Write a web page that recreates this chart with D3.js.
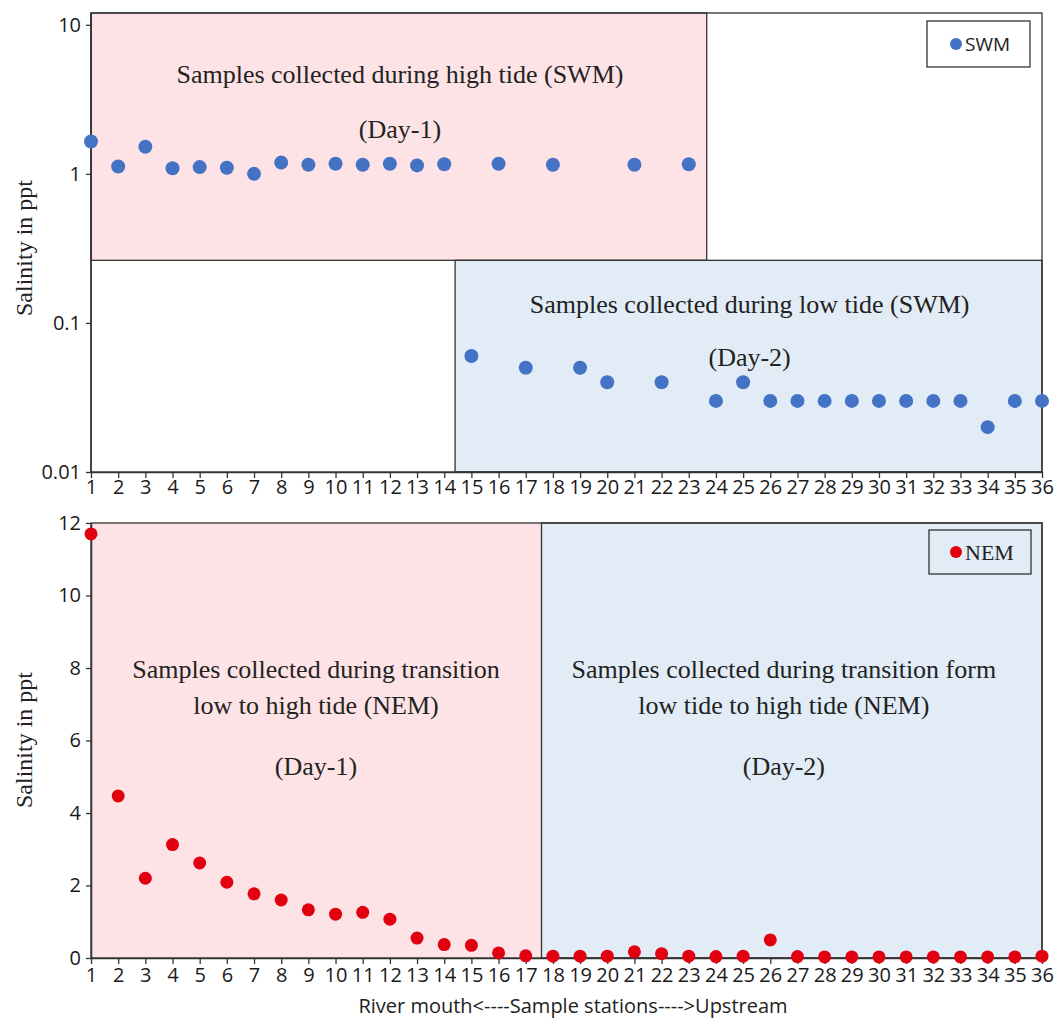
<!DOCTYPE html>
<html>
<head>
<meta charset="utf-8">
<script src="https://cdn.jsdelivr.net/npm/d3@7"></script>
<style>
body { margin: 0; background: #fff; }
</style>
</head>
<body>
<script>
// stations 1..36
var stations = d3.range(1, 37);

// SWM - high tide day-1 (log scale)
var swmHighStations = [1,2,3,4,5,6,7,8,9,10,11,12,13,14,16,18,21,23];
var swmHighValues   = [1.65,1.12,1.52,1.09,1.11,1.10,1.00,1.19,1.15,1.17,1.15,1.17,1.14,1.16,1.17,1.15,1.15,1.16];
// SWM - low tide day-2
var swmLowStations = [15,17,19,20,22,24,25,26,27,28,29,30,31,32,33,34,35,36];
var swmLowValues   = [0.06,0.05,0.05,0.04,0.04,0.03,0.04,0.03,0.03,0.03,0.03,0.03,0.03,0.03,0.03,0.02,0.03,0.03];

// NEM - all 36 stations
var nemValues = [11.7,4.47,2.2,3.13,2.62,2.09,1.77,1.6,1.33,1.21,1.26,1.07,0.55,0.37,0.35,0.14,0.06,
                 0.05,0.05,0.05,0.17,0.12,0.05,0.04,0.05,0.5,0.04,0.03,0.03,0.03,0.03,0.03,0.03,0.03,0.03,0.05];

var logTicks = [0.01, 0.1, 1, 10];
var linTicks = [0, 2, 4, 6, 8, 10, 12];

var W = 1059, H = 1021;
var svg = d3.select('body').append('svg')
    .attr('width', W)
    .attr('height', H);

var x = d3.scaleLinear().domain([1, 36]).range([91, 1042]);
var yTop = d3.scaleLog().domain([0.01, 12]).range([472, 13]);
var yBot = d3.scaleLinear().domain([0, 12]).range([958, 523]);

var pink = '#fde3e5', blue = '#e1ecf7', edge = '#333';
var serif = 'Liberation Serif, Times New Roman, serif';
var sans = 'Open Sans, sans-serif';
var annSize = 26;

function ann(g, cx, y, t) {
    g.append('text').attr('x', cx).attr('y', y)
        .attr('text-anchor', 'middle').attr('font-family', serif)
        .attr('font-size', annSize).attr('fill', '#222').text(t);
}

function styleAxis(a) {
    a.select('.domain').attr('stroke', edge).attr('stroke-width', 1.5);
    a.selectAll('.tick line').attr('stroke', edge).attr('stroke-width', 1.3);
    a.selectAll('.tick text').attr('font-family', sans).attr('font-size', 20).attr('fill', '#1a1a1a');
}

// ---------- TOP PANEL ----------
var topG = svg.append('g');

// shaded regions (in data units)
topG.append('rect')
    .attr('x', x(1)).attr('y', yTop(12))
    .attr('width', x(23.66) - x(1)).attr('height', yTop(0.263) - yTop(12))
    .attr('fill', pink).attr('stroke', edge).attr('stroke-width', 1.3);
topG.append('rect')
    .attr('x', x(14.4)).attr('y', yTop(0.263))
    .attr('width', x(36) - x(14.4)).attr('height', yTop(0.01) - yTop(0.263))
    .attr('fill', blue).attr('stroke', edge).attr('stroke-width', 1.3);

// frame
topG.append('rect')
    .attr('x', x(1)).attr('y', yTop(12))
    .attr('width', x(36) - x(1)).attr('height', yTop(0.01) - yTop(12))
    .attr('fill', 'none').attr('stroke', edge).attr('stroke-width', 1.3);

// annotations
ann(topG, x(12.37), yTop(4.07), 'Samples collected during high tide (SWM)');
ann(topG, x(12.37), yTop(1.74), '(Day-1)');
ann(topG, x(25.24), yTop(0.1166), 'Samples collected during low tide (SWM)');
ann(topG, x(25.24), yTop(0.0514), '(Day-2)');

// axes
var axTopX = topG.append('g').attr('transform', 'translate(0,' + yTop(0.01) + ')')
    .call(d3.axisBottom(x).tickValues(stations).tickFormat(d3.format('d')).tickSize(6).tickSizeOuter(0));
var axTopY = topG.append('g').attr('transform', 'translate(' + x(1) + ',0)')
    .call(d3.axisLeft(yTop).tickValues(logTicks).tickFormat(function(d){ return String(d); }).tickSize(5).tickSizeOuter(0));
styleAxis(axTopX);
styleAxis(axTopY);
axTopX.selectAll('.tick text').attr('y', 15).attr('dy', '0.35em');
axTopY.select('.domain').attr('d', 'M0,' + yTop(12) + 'V' + yTop(0.01));
axTopY.selectAll('.tick text').attr('x', -10);

// points
topG.selectAll('circle.hi').data(swmHighStations).enter().append('circle')
    .attr('class', 'hi')
    .attr('cx', function(d){ return x(d); })
    .attr('cy', function(d, i){ return yTop(swmHighValues[i]); })
    .attr('r', 7).attr('fill', '#4472c4');
topG.selectAll('circle.lo').data(swmLowStations).enter().append('circle')
    .attr('class', 'lo')
    .attr('cx', function(d){ return x(d); })
    .attr('cy', function(d, i){ return yTop(swmLowValues[i]); })
    .attr('r', 7).attr('fill', '#4472c4');

// legend
topG.append('rect').attr('x', 927).attr('y', 21).attr('width', 103).attr('height', 46)
    .attr('fill', '#fff').attr('stroke', edge).attr('stroke-width', 1.3);
topG.append('circle').attr('cx', 956).attr('cy', 44).attr('r', 6).attr('fill', '#4472c4');
topG.append('text').attr('x', 965).attr('y', 51).attr('font-family', sans).attr('font-size', 19).attr('fill', '#222').text('SWM');

// y title
topG.append('text').attr('transform', 'translate(32,248) rotate(-90)')
    .attr('text-anchor', 'middle').attr('font-family', serif).attr('font-size', 24).attr('fill', '#222')
    .text('Salinity in ppt');

// ---------- BOTTOM PANEL ----------
var botG = svg.append('g');

botG.append('rect')
    .attr('x', x(1)).attr('y', yBot(12))
    .attr('width', x(17.58) - x(1)).attr('height', yBot(0) - yBot(12))
    .attr('fill', pink);
botG.append('rect')
    .attr('x', x(17.58)).attr('y', yBot(12))
    .attr('width', x(36) - x(17.58)).attr('height', yBot(0) - yBot(12))
    .attr('fill', blue).attr('stroke', edge).attr('stroke-width', 1.3);
botG.append('rect')
    .attr('x', x(1)).attr('y', yBot(12))
    .attr('width', x(36) - x(1)).attr('height', yBot(0) - yBot(12))
    .attr('fill', 'none').attr('stroke', edge).attr('stroke-width', 1.3);

ann(botG, x(9.28), yBot(7.72), 'Samples collected during transition');
ann(botG, x(9.28), yBot(6.73), 'low to high tide (NEM)');
ann(botG, x(9.28), yBot(5.05), '(Day-1)');
ann(botG, x(26.5), yBot(7.72), 'Samples collected during transition form');
ann(botG, x(26.5), yBot(6.73), 'low tide to high tide (NEM)');
ann(botG, x(26.5), yBot(5.05), '(Day-2)');

var axBotX = botG.append('g').attr('transform', 'translate(0,' + yBot(0) + ')')
    .call(d3.axisBottom(x).tickValues(stations).tickFormat(d3.format('d')).tickSize(6).tickSizeOuter(0));
var axBotY = botG.append('g').attr('transform', 'translate(' + x(1) + ',0)')
    .call(d3.axisLeft(yBot).tickValues(linTicks).tickSize(5).tickSizeOuter(0));
styleAxis(axBotX);
styleAxis(axBotY);
axBotX.selectAll('.tick text').attr('y', 17).attr('dy', '0.35em');
axBotY.selectAll('.tick text').attr('x', -10);

botG.selectAll('circle.nem').data(nemValues).enter().append('circle')
    .attr('class', 'nem')
    .attr('cx', function(d, i){ return x(stations[i]); })
    .attr('cy', function(d){ return yBot(d); })
    .attr('r', 6.5).attr('fill', '#e0000f');

botG.append('rect').attr('x', 929).attr('y', 530).attr('width', 102).attr('height', 44)
    .attr('fill', 'none').attr('stroke', edge).attr('stroke-width', 1.3);
botG.append('circle').attr('cx', 956).attr('cy', 552).attr('r', 6).attr('fill', '#e0000f');
botG.append('text').attr('x', 965).attr('y', 560).attr('font-family', serif).attr('font-size', 22).attr('fill', '#222').text('NEM');

botG.append('text').attr('transform', 'translate(32,740) rotate(-90)')
    .attr('text-anchor', 'middle').attr('font-family', serif).attr('font-size', 24).attr('fill', '#222')
    .text('Salinity in ppt');

svg.append('text').attr('x', 573).attr('y', 1013)
    .attr('text-anchor', 'middle').attr('font-family', sans).attr('font-size', 20).attr('fill', '#222')
    .text('River mouth<----Sample stations---->Upstream');
</script>
</body>
</html>
